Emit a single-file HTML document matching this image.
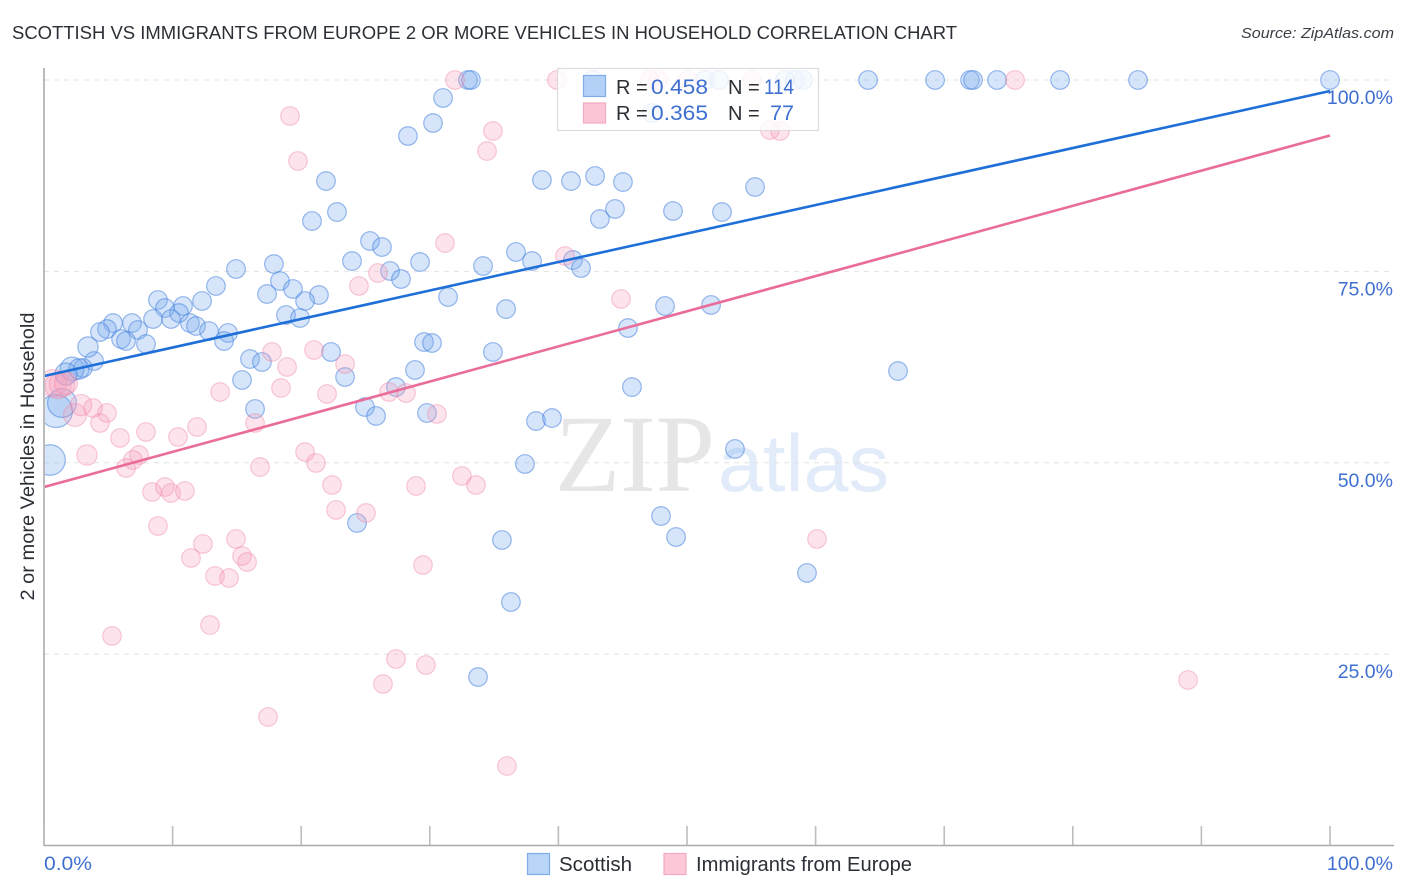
<!DOCTYPE html>
<html lang="en">
<head>
<meta charset="utf-8">
<title>Scottish vs Immigrants from Europe correlation chart</title>
<style>
html,body{margin:0;padding:0;background:#fff;}
svg{display:block;font-family:"Liberation Sans",sans-serif;}
</style>
</head>
<body>
<svg id="chart" width="1406" height="892" viewBox="0 0 1406 892" xmlns="http://www.w3.org/2000/svg">
  <defs><clipPath id="plot-clip"><rect x="45" y="60" width="1350" height="785"></rect></clipPath></defs>
  <rect x="0" y="0" width="1406" height="892" fill="#fff"></rect>
  <text x="12" y="39" font-size="18.5" fill="#2b2f36" textLength="945" lengthAdjust="spacingAndGlyphs">SCOTTISH VS IMMIGRANTS FROM EUROPE 2 OR MORE VEHICLES IN HOUSEHOLD CORRELATION CHART</text>
  <text x="1394" y="38" font-size="15" font-style="italic" fill="#3a3f47" text-anchor="end" textLength="153" lengthAdjust="spacingAndGlyphs">Source: ZipAtlas.com</text>
  <g>
    <text x="555" y="491" font-family="'Liberation Serif',serif" font-size="110" fill="#e6e6e6" textLength="160" lengthAdjust="spacingAndGlyphs">ZIP</text>
    <text x="718" y="491" font-family="'Liberation Sans',sans-serif" font-size="81" fill="#e1ebf9">atlas</text>
  </g>
  <g id="grid"></g>
  <g id="axes"></g>
  <g id="marks" clip-path="url(#plot-clip)"></g>
  <g id="trends" clip-path="url(#plot-clip)"></g>
  <g id="tick-labels"></g>
  <text transform="translate(34,456.5) rotate(-90)" font-size="19.5" fill="#2b2f36" text-anchor="middle" textLength="288" lengthAdjust="spacingAndGlyphs">2 or more Vehicles in Household</text>
  <g>
    <rect x="557.5" y="68.5" width="261" height="62" fill="#fff" fill-opacity="0.82" stroke="#dcdcdc" stroke-width="1.2"></rect>
    <rect x="583.5" y="75.5" width="22" height="21" fill="#b3d0f7" stroke="#7fabe8" stroke-width="1.2"></rect>
    <rect x="583.5" y="103" width="22" height="20" fill="#fcc5d6" stroke="#f3a9c1" stroke-width="1.2"></rect>
    <g font-size="20" fill="#2b2f36">
      <text x="616" y="94">R =</text>
      <text x="728" y="94">N =</text>
      <text x="616" y="120">R =</text>
      <text x="728" y="120">N =</text>
    </g>
    <g font-size="21" fill="#3f6fd0">
      <text x="651" y="94" textLength="57" lengthAdjust="spacingAndGlyphs">0.458</text>
      <text x="764" y="94" textLength="30" lengthAdjust="spacingAndGlyphs">114</text>
      <text x="651" y="120" textLength="57" lengthAdjust="spacingAndGlyphs">0.365</text>
      <text x="770" y="120" textLength="24" lengthAdjust="spacingAndGlyphs">77</text>
    </g>
  </g>
  <g>
    <rect x="527.5" y="853.5" width="22" height="21" fill="#b9d5f8" stroke="#7fabe8" stroke-width="1.2"></rect>
    <text x="559" y="871" font-size="20" fill="#2b2f36" textLength="73" lengthAdjust="spacingAndGlyphs">Scottish</text>
    <rect x="664" y="853.5" width="22" height="21" fill="#fcc8d8" stroke="#f3a9c1" stroke-width="1.2"></rect>
    <text x="696" y="871" font-size="20" fill="#2b2f36" textLength="216" lengthAdjust="spacingAndGlyphs">Immigrants from Europe</text>
  </g>
</svg>
<script>
const xTickValues = [0,10,20,30,40,50,60,70,80,90,100];
const xTickLabels = ["0.0%","100.0%"];
const yTickValues = [25,50,75,100];
const yTickLabels = ["25.0%","50.0%","75.0%","100.0%"];

const scottishX = [32.97,33.20,42.69,51.40,52.49,57.62,58.40,59.02,64.08,69.29,72.01,72.24,74.11,79.01,85.07,100,47.28,31.03,30.25,28.30,21.93,20.84,22.78,38.72,40.98,42.85,45.02,55.29,44.40,43.23,48.91,52.72,25.35,26.28,23.95,29.24,26.91,27.76,34.14,36.70,37.95,41.13,41.76,14.93,17.88,18.35,13.37,17.34,19.36,21.38,20.30,31.42,35.93,48.29,51.87,45.41,8.86,10.81,12.29,9.41,10.50,8.48,9.88,6.84,5.37,4.90,4.35,7.31,11.35,11.82,12.83,14.31,14.00,18.82,19.91,5.99,6.38,7.93,22.32,29.55,30.17,34.91,3.89,16.02,16.95,3.03,23.41,28.85,15.40,27.37,45.72,66.41,16.41,24.96,25.82,29.78,38.26,39.50,53.73,37.40,24.34,47.98,35.61,49.15,59.33,36.31,33.75];
const scottishY = [100,100,100,100,100,100,100,100,100,100,100,100,100,100,100,100,95.69,97.65,94.38,92.68,86.80,81.58,82.75,86.94,86.80,87.46,86.67,86.02,83.15,81.84,82.89,82.75,78.97,78.18,76.35,76.22,75.05,74.00,75.70,77.53,76.35,76.48,75.44,75.31,75.96,73.74,73.09,72.04,72.70,71.91,71.13,71.65,70.08,70.48,70.61,67.60,71.26,70.48,71.13,70.21,69.56,68.78,68.78,68.25,68.25,67.47,67.08,67.34,68.25,67.86,67.21,66.95,65.90,69.30,68.91,66.16,65.90,65.51,64.47,65.77,65.64,64.47,63.29,63.55,63.16,62.38,61.20,62.12,60.81,59.89,59.89,61.98,57.02,57.28,56.11,56.50,55.45,55.84,51.80,49.84,42.13,43.04,39.91,40.30,35.60,31.81,22.01];
const scottishLargeX = [3.42,2.18,2.72,1.71,0.93,1.40,0.47];
const scottishLargeY = [65.12,62.25,62.25,61.59,56.76,57.81,50.36];
const scottishLargePop = [1.1,1.3,1.1,1.2,1.85,1.6,1.7];

const immigrantsX = [31.96,39.89,47.12,47.75,50.08,55.05,75.51,19.13,19.75,34.91,34.45,56.45,57.23,31.18,40.51,25.97,24.49,44.87,17.73,21.00,23.41,18.90,18.43,22.01,13.69,26.83,28.15,30.56,16.41,11.90,10.42,5.91,7.93,4.90,3.81,4.35,7.39,6.92,6.38,20.30,21.15,16.80,22.40,28.93,32.50,33.59,8.40,9.41,9.88,10.96,22.71,25.04,8.86,14.93,12.36,11.43,15.40,15.79,13.30,14.39,29.47,60.11,12.91,5.29,27.37,29.70,26.36,88.96,17.42,36.00];
const immigrantsY = [100,100,100,100,100,100,100,95.30,89.42,93.34,90.72,93.47,93.34,78.70,77.01,74.79,73.09,71.39,64.47,64.73,62.90,62.51,59.76,58.98,59.24,59.24,59.11,56.37,55.19,54.67,53.36,53.23,54.02,56.50,57.15,55.19,51.01,50.36,49.31,51.40,49.97,49.44,47.09,46.96,48.27,47.09,46.18,46.83,46.05,46.31,43.83,43.44,41.74,40.04,39.39,37.56,37.82,37.03,35.21,34.94,36.64,40.04,28.80,27.37,24.36,23.58,21.10,21.62,16.79,10.39];
const immigrantsLargeX = [0.70,1.09,1.40,1.71,2.41,2.88,3.34];
const immigrantsLargeY = [60.40,60.10,60.30,60.40,56.24,57.54,51.01];
const immigrantsLargePop = [1.5,1.45,1.4,1.25,1.25,1.15,1.1];

const trendEnds = [0,100];
const scottishTrend = [61.33,98.56];
const immigrantsTrend = [46.83,92.75];

const SVGNS = "http://www.w3.org/2000/svg";
function xScale(v){ return 44 + v * 12.86; }
function yScale(v){ return 845.5 - v * 7.655; }
function radius(pop){ return 9.3 * Math.sqrt(pop) * (pop > 1 ? Math.sqrt(pop) * 0.85 + 0.15 : 1); }
function make(tag, attrs){
  const el = document.createElementNS(SVGNS, tag);
  for (const k in attrs) el.setAttribute(k, attrs[k]);
  return el;
}
const gridG = document.getElementById("grid");
const axesG = document.getElementById("axes");
const marksG = document.getElementById("marks");
const trendsG = document.getElementById("trends");
const labelsG = document.getElementById("tick-labels");

yTickValues.forEach(function(v){
  const l = make("line", {x1:44, x2:1394, y1:yScale(v), y2:yScale(v), stroke:"#e2e2e2", "stroke-width":1.1, "stroke-dasharray":"5 5"});
  
  
  gridG.appendChild(l);
});

const yAxisLine = make("line", {x1:44, x2:44, y1:68, y2:846, stroke:"#aaaaaa", "stroke-width":1.6});


axesG.appendChild(yAxisLine);
const xAxisLine = make("line", {x1:44, x2:1394, y1:845.5, y2:845.5, stroke:"#aaaaaa", "stroke-width":1.6});


axesG.appendChild(xAxisLine);
xTickValues.forEach(function(v){
  const t = make("line", {x1:xScale(v), x2:xScale(v), y1:826, y2:845, stroke:"#bdbdbd", "stroke-width":1.6});
  
  
  axesG.appendChild(t);
});

function drawSeries(xs, ys, pops, fill, stroke, name){
  xs.forEach(function(x, i){
    const c = make("circle", {cx:xScale(x), cy:yScale(ys[i]), r:radius(pops ? pops[i] : 1), fill:fill, stroke:stroke, "stroke-width":1.2});
    
    
    marksG.appendChild(c);
  });
}
const blueFill = "rgba(120,170,240,0.3)", blueStroke = "rgba(70,130,220,0.55)";
const pinkFill = "rgba(248,155,185,0.27)", pinkStroke = "rgba(238,130,165,0.42)";
drawSeries(scottishX, scottishY, null, blueFill, blueStroke, "scottish-point");
drawSeries(scottishLargeX, scottishLargeY, scottishLargePop, blueFill, blueStroke, "scottish-point-large");
drawSeries(immigrantsX, immigrantsY, null, pinkFill, pinkStroke, "immigrants-point");
drawSeries(immigrantsLargeX, immigrantsLargeY, immigrantsLargePop, pinkFill, pinkStroke, "immigrants-point-large");

const scottishLine = make("line", {x1:xScale(trendEnds[0]), x2:xScale(trendEnds[1]), y1:yScale(scottishTrend[0]), y2:yScale(scottishTrend[1]), stroke:"#1f6fd8", "stroke-width":2.6});


trendsG.appendChild(scottishLine);
const immigrantsLine = make("line", {x1:xScale(trendEnds[0]), x2:xScale(trendEnds[1]), y1:yScale(immigrantsTrend[0]), y2:yScale(immigrantsTrend[1]), stroke:"#e96c9b", "stroke-width":2.6});


trendsG.appendChild(immigrantsLine);

yTickValues.forEach(function(v, i){
  const t = make("text", {x:1393, y:yScale(v) + 24, "text-anchor":"end", "font-size":19.5, fill:"#3f6fd0"});
  t.textContent = yTickLabels[i];
  
  
  labelsG.appendChild(t);
});
const xLabelLeft = make("text", {x:44, y:870, "font-size":19.5, fill:"#3f6fd0", textLength:48, lengthAdjust:"spacingAndGlyphs"});
xLabelLeft.textContent = xTickLabels[0];


labelsG.appendChild(xLabelLeft);
const xLabelRight = make("text", {x:1393, y:870, "text-anchor":"end", "font-size":19.5, fill:"#3f6fd0"});
xLabelRight.textContent = xTickLabels[1];


labelsG.appendChild(xLabelRight);
</script>
</body>
</html>
